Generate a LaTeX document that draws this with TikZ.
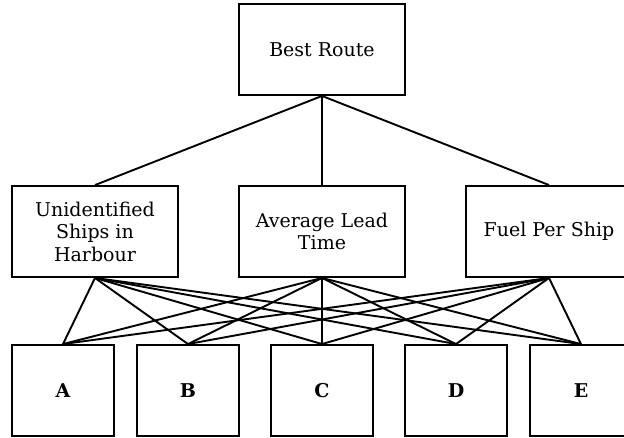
\documentclass[tikz,border=0pt]{standalone}
\usepackage{fontspec}
\setmainfont{DejaVu Serif}
\begin{document}
\begin{tikzpicture}[x=1pt,y=-1pt,
  box/.style={draw,line width=1.9pt,minimum width=166pt,minimum height=91pt,align=center,font=\fontsize{19}{22.5}\selectfont,inner sep=0pt},
  alt/.style={draw,line width=1.9pt,minimum width=102pt,minimum height=91pt,font=\fontsize{19}{22.5}\selectfont\bfseries,inner sep=0pt},
  link/.style={line width=1.9pt}]
\useasboundingbox (0,0) rectangle (624,437);
\clip (0,0) rectangle (624,437);
\node[box] (top) at (322,49.5) {Best Route};
\node[box] (u) at (95,231.5) {Unidentified\\Ships in\\Harbour};
\node[box] (l) at (322,231.5) {Average Lead\\Time};
\node[box] (f) at (549,231.5) {Fuel Per Ship};
\node[alt] (a) at (63,390.5) {A};
\node[alt] (b) at (188,390.5) {B};
\node[alt] (c) at (322,390.5) {C};
\node[alt] (d) at (456,390.5) {D};
\node[alt] (e) at (581,390.5) {E};
\foreach \m in {u,l,f}{\draw[link] (top.south) -- (\m.north);}
\foreach \m in {u,l,f}{\foreach \k in {a,b,c,d,e}{\draw[link] (\m.south) -- (\k.north);}}
\end{tikzpicture}
\end{document}
